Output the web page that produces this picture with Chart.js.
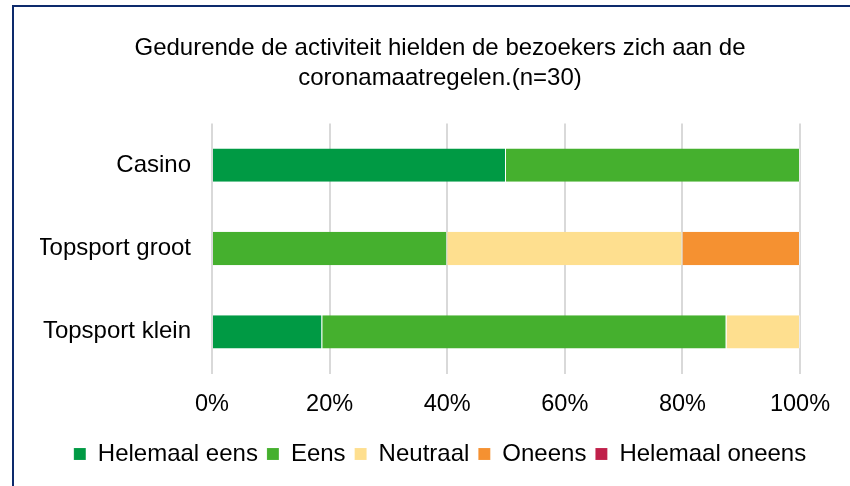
<!DOCTYPE html>
<html lang="nl">
<head>
<meta charset="utf-8">
<script src="https://cdn.jsdelivr.net/npm/chart.js@4/dist/chart.umd.min.js"></script>
<style>
  html, body { margin: 0; padding: 0; background: #ffffff; }
  #wrap { position: relative; width: 850px; height: 486px; overflow: hidden; }
  #frame {
    position: absolute; left: 12px; top: 5px; width: 900px; height: 600px;
    border-top: 2px solid #0d2a6c; border-left: 2px solid #0d2a6c;
    pointer-events: none;
  }
  canvas { position: absolute; left: 0; top: 0; }
</style>
</head>
<body>
<div id="wrap">
  <canvas id="chart" width="850" height="486"></canvas>
  <div id="frame"></div>
</div>
<script>
// Categories (rows) and answer shares in percent
const categories = ['Casino', 'Topsport groot', 'Topsport klein'];
const helemaalEens   = [50, 0, 18.75];
const eens           = [50, 40, 68.75];
const neutraal       = [0, 40, 12.5];
const oneens         = [0, 20, 0];
const helemaalOneens = [0, 0, 0];
const tickLabels = ['0%', '20%', '40%', '60%', '80%', '100%'];
const titleLines = ['Gedurende de activiteit hielden de bezoekers zich aan de', 'coronamaatregelen.(n=30)'];

const series = [
  { label: 'Helemaal eens',   data: helemaalEens,   color: '#009a44' },
  { label: 'Eens',            data: eens,           color: '#45b02e' },
  { label: 'Neutraal',        data: neutraal,       color: '#fedf8f' },
  { label: 'Oneens',          data: oneens,         color: '#f59131' },
  { label: 'Helemaal oneens', data: helemaalOneens, color: '#c0204a' }
];

const FONT = 'Arial, "Liberation Sans", sans-serif';

new Chart(document.getElementById('chart'), {
  type: 'bar',
  data: {
    labels: categories,
    datasets: series.map(s => ({
      label: s.label,
      data: s.data,
      backgroundColor: s.color,
      borderColor: 'rgba(255,255,255,0.45)',
      borderWidth: { left: 0, right: 1, top: 0, bottom: 0 },
      borderSkipped: false,
      categoryPercentage: 0.4,
      barPercentage: 1.0
    }))
  },
  options: {
    indexAxis: 'y',
    responsive: false,
    animation: false,
    layout: { padding: { top: 10, bottom: 10, left: 40, right: 10 } },
    scales: {
      x: {
        stacked: true,
        min: 0,
        max: 100,
        border: { display: false },
        grid: { color: '#d9d9d9', lineWidth: 2, drawTicks: false },
        ticks: {
          stepSize: 20,
          padding: 17,
          color: '#000000',
          font: { family: FONT, size: 23.5 },
          callback: (v, i) => tickLabels[i]
        },
        afterFit: (scale) => { scale.height = 59.5; }
      },
      y: {
        stacked: true,
        border: { display: false },
        grid: { display: false, drawTicks: false },
        ticks: {
          padding: 21,
          color: '#000000',
          font: { family: FONT, size: 24 }
        },
        afterFit: (scale) => { scale.width = 172; }
      },
      // empty spacer on the right so the title and legend sit centred over the frame
      spacer: {
        axis: 'y',
        type: 'category',
        position: 'right',
        labels: [],
        border: { display: false },
        grid: { display: false, drawTicks: false },
        ticks: { display: false },
        afterFit: (scale) => { scale.width = 40; }
      }
    },
    plugins: {
      title: {
        display: true,
        text: titleLines,
        color: '#000000',
        font: { family: FONT, size: 24, weight: 'normal', lineHeight: 1.25 },
        padding: { top: 23, bottom: 30.5 }
      },
      legend: {
        position: 'bottom',
        labels: {
          color: '#000000',
          font: { family: FONT, size: 24 },
          boxWidth: 12,
          boxHeight: 12,
          padding: 9
        }
      },
      tooltip: { enabled: false }
    }
  }
});
</script>
</body>
</html>
